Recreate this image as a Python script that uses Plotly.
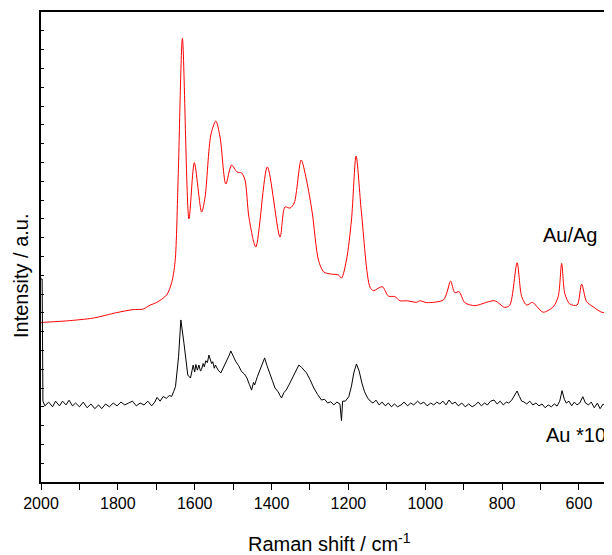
import plotly.graph_objects as go

# Au/Ag spectrum (red)
aguag_x = [2000, 1994, 1933, 1864, 1803, 1760, 1734, 1716, 1699, 1673, 1660, 1651, 1643, 1632,
           1615, 1601, 1582, 1573, 1558, 1545, 1534, 1519, 1504, 1490, 1478, 1469, 1459, 1441,
           1411, 1378, 1365, 1352, 1341, 1323, 1309, 1294, 1278, 1264, 1244, 1226, 1218, 1205,
           1192, 1180, 1166, 1144, 1135, 1112, 1096, 1079, 1066, 1048, 1022, 1014, 996, 953,
           944, 934, 923, 912, 897, 871, 840, 819, 793, 780, 761, 749, 736, 721, 709, 693, 667,
           654, 645, 637, 624, 605, 593, 580, 563, 537, 519, 514]
aguag_y = [8.47, 8.49, 8.57, 8.72, 9.01, 9.17, 9.2, 9.41, 9.55, 9.95, 10.6, 11.73, 16.24, 23.6,
           13.99, 16.98, 14.36, 15.16, 18.46, 19.2, 18.35, 15.85, 16.86, 16.49, 16.44, 16.06, 14.1, 12.5,
           16.76, 13.03, 14.63, 14.57, 14.84, 17.13, 16.06, 14.31, 11.81, 11.17, 11.06, 11.01, 10.85, 11.81,
           13.94, 17.34, 14.31, 10.37, 10.18, 10.39, 9.89, 9.86, 9.64, 9.64, 9.56, 9.64, 9.54, 9.68,
           10.05, 10.69, 10.07, 10.12, 9.54, 9.38, 9.56, 9.64, 9.29, 9.41, 11.66, 9.86, 9.41, 9.56, 9.32, 9.03, 9.32,
           9.86, 11.63, 10.04, 9.47, 9.41, 10.52, 9.59, 9.32, 9.01, 9.24, 9.59]

# Au spectrum x10 (black)
au_x = [2000, 1997, 1995, 1990, 1980, 1970, 1962, 1952, 1944, 1935, 1927, 1918, 1910, 1900, 1890,
        1880, 1870, 1860, 1850, 1842, 1832, 1822, 1812, 1802, 1792, 1782, 1772, 1762, 1752, 1742,
        1732, 1722, 1712, 1704, 1698, 1690, 1682, 1674, 1666, 1660, 1655, 1650, 1642, 1636, 1628,
        1618, 1611, 1607, 1604, 1600, 1597, 1593, 1589, 1585, 1582, 1578, 1575, 1571, 1567, 1563,
        1560, 1556, 1553, 1549, 1546, 1539, 1532, 1525, 1517,
        1510, 1506, 1500, 1493, 1486, 1478, 1471, 1464, 1458, 1452, 1447, 1444, 1437, 1430, 1424,
        1418, 1412, 1406, 1398, 1391, 1383, 1378, 1374, 1368, 1362, 1355, 1348, 1340, 1334, 1329,
        1322, 1316, 1309, 1300, 1290, 1280, 1270, 1262, 1254, 1246, 1238, 1230, 1222, 1218, 1215,
        1208, 1199, 1192, 1186, 1179, 1172, 1165, 1158, 1150, 1143, 1136, 1128, 1120, 1112, 1104,
        1096, 1088, 1080, 1072, 1063, 1055, 1046, 1038, 1030, 1020, 1012, 1004, 995, 986, 978,
        970, 962, 954, 946, 938, 930, 922, 914, 905, 896, 887, 878, 870, 862, 854,
        846, 838, 830, 821, 813, 805, 797, 789, 783, 775, 768, 761, 755, 749, 744,
        736, 728, 720, 712, 704, 696, 688, 680, 672, 664, 657, 650, 644, 638, 633,
        626, 619, 612, 605, 598, 590, 583, 575, 568, 560, 552, 545, 537, 530, 522, 514]
au_y = [10.8, 10.8, 4.3, 4.05, 4.25, 4.0, 4.3, 4.05, 4.3, 4.1, 4.35, 4.05, 4.2, 4.0, 4.25,
        3.95, 4.15, 3.9, 4.1, 3.9, 4.15, 4.0, 4.2, 4.05, 4.25, 4.1, 4.2, 4.3, 4.05, 4.2,
        4.1, 4.3, 4.05, 4.25, 4.5, 4.3, 4.55, 4.45, 4.6, 4.55, 4.8, 5.07, 6.66, 8.62, 7.39,
        5.69, 5.53, 5.9, 6.22, 5.85, 6.25, 5.95, 6.22, 5.9, 6.0, 6.3, 6.13, 6.45, 6.35, 6.75,
        6.6, 6.3, 6.4, 6.05, 6.22, 5.95, 5.8, 6.1, 6.4,
        6.75, 6.97, 6.7, 6.4, 6.2, 5.87, 5.75, 5.53, 5.2, 4.89, 5.3, 5.16, 5.6, 5.96, 6.3,
        6.6, 6.2, 5.8, 5.4, 5.0, 4.8, 4.6, 4.47, 4.75, 4.89, 5.15, 5.43, 5.8, 6.05, 6.22,
        6.1, 5.95, 5.8, 5.45, 5.0, 4.65, 4.36, 4.4, 4.2, 4.27, 4.1, 4.25, 4.15, 3.26, 4.3,
        4.3, 4.54, 5.1, 5.8, 6.28, 5.9, 5.27, 4.8, 4.47, 4.3, 4.2, 4.35, 4.1, 4.25, 4.05,
        4.2, 4.0, 4.15, 4.0, 4.1, 4.25, 4.05, 4.2, 4.1, 4.3, 4.15, 4.25, 4.05, 4.2, 4.1,
        4.25, 4.15, 4.3, 4.1, 4.36, 4.15, 4.25, 4.05, 4.2, 4.0, 4.15, 4.0, 4.1, 4.25, 4.05,
        4.2, 4.1, 4.3, 4.36, 4.15, 4.3, 4.1, 4.25, 4.2, 4.35, 4.6, 4.84, 4.55, 4.3, 4.27,
        4.15, 4.3, 4.1, 4.2, 4.05, 4.15, 3.95, 4.1, 4.0, 4.15, 4.04, 4.3, 4.86, 4.4, 4.2,
        4.3, 4.05, 4.25, 4.1, 4.2, 4.54, 4.2, 4.1, 4.25, 3.95, 4.2, 3.9, 4.15, 4.0, 4.2, 4.1]

x_tick_vals = [2000, 1800, 1600, 1400, 1200, 1000, 800, 600]
x_tick_text = ["2000", "1800", "1600", "1400", "1200", "1000", "800", "600"]

FONT = "Liberation Sans, Arial, sans-serif"

# The page body adds an 8px offset; figure is sized/margined to compensate.
OFF = 8
W, H = 612, 555 - OFF
L, T = 41 - OFF, 12 - OFF
PW, PH = 571, 470
R = W - L - PW
B = H - T - PH

fig = go.Figure()
fig.add_trace(go.Scatter(x=aguag_x, y=aguag_y, mode="lines",
                         line=dict(color="#ff0000", width=1, shape="spline", smoothing=0.8),
                         showlegend=False))
fig.add_trace(go.Scatter(x=au_x, y=au_y, mode="lines",
                         line=dict(color="#000000", width=1), showlegend=False))

def px(xp):
    return (xp - 41) / PW

def py(yp):
    return (482 - yp) / PH

fig.update_layout(
    width=W, height=H,
    margin=dict(l=L, r=R, t=T, b=B, autoexpand=False),
    paper_bgcolor="white", plot_bgcolor="white",
    font=dict(family=FONT, color="black"),
    xaxis=dict(range=[2000, 514], showgrid=False, zeroline=False,
               showline=True, linecolor="black", linewidth=1.5, mirror=True,
               ticks="outside", ticklen=6, tickwidth=1.2, tickcolor="black",
               tickvals=x_tick_vals, ticktext=x_tick_text,
               tickfont=dict(size=16, family=FONT, color="black"),
               minor=dict(dtick=100, tick0=0, ticks="outside", ticklen=6,
                          tickwidth=1.2, tickcolor="black", showgrid=False)),
    yaxis=dict(range=[0, 25], showgrid=False, zeroline=False,
               showline=True, linecolor="black", linewidth=1.5,
               ticks="inside", ticklen=3, tickwidth=1.2, tickcolor="black",
               dtick=1, tick0=0, showticklabels=False),
    annotations=[
        dict(text="Raman shift / cm<sup>-1</sup>", xref="paper", yref="paper",
             x=px(329), y=py(542), xanchor="center", yanchor="middle",
             showarrow=False, font=dict(size=20, family=FONT, color="black")),
        dict(text="Intensity / a.u.", xref="paper", yref="paper", textangle=-90,
             x=px(21), y=py(276), xanchor="center", yanchor="middle",
             showarrow=False, font=dict(size=20, family=FONT, color="black")),
        dict(text="Au/Ag", xref="paper", yref="paper",
             x=px(570), y=py(235), xanchor="center", yanchor="middle",
             showarrow=False, font=dict(size=20, family=FONT, color="black")),
        dict(text="Au *10", xref="paper", yref="paper",
             x=px(576), y=py(435), xanchor="center", yanchor="middle",
             showarrow=False, font=dict(size=20, family=FONT, color="black")),
    ],
)

fig.write_html("out.html")
